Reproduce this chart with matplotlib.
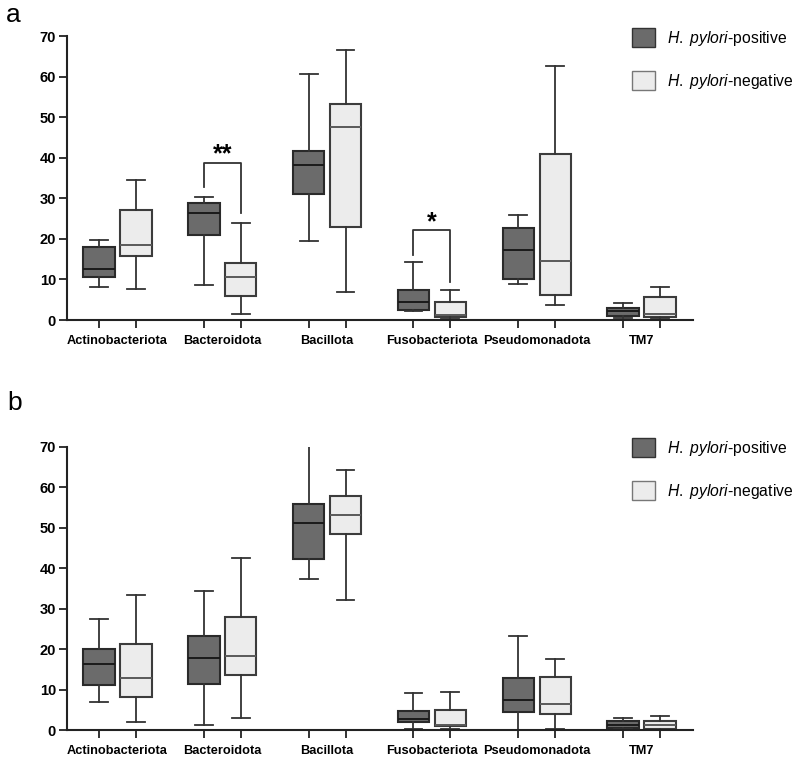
import matplotlib
matplotlib.use("Agg")
import matplotlib.pyplot as plt
from matplotlib.patches import Patch

plt.rcParams['font.family'] = ['Liberation Sans', 'DejaVu Sans']
plt.rcParams['mathtext.fontset'] = 'custom'
plt.rcParams['mathtext.rm'] = 'Liberation Sans'
plt.rcParams['mathtext.it'] = 'Liberation Sans:italic'

phyla = ['Actinobacteriota', 'Bacteroidota', 'Bacillota',
         'Fusobacteriota', 'Pseudomonadota', 'TM7']
groups = [r'$\it{H.}$ $\it{pylori}$-positive', r'$\it{H.}$ $\it{pylori}$-negative']

# five-number summaries per phylum: whisker low, Q1, median, Q3, whisker high
a_pos = [[8.1, 10.7, 12.5, 18.1, 19.8],
         [8.6, 21.0, 26.3, 28.8, 30.4],
         [19.5, 31.0, 38.2, 41.6, 60.6],
         [2.1, 2.4, 4.5, 7.3, 14.3],
         [8.9, 10.1, 17.3, 22.8, 25.8],
         [0.4, 0.9, 2.3, 3.0, 4.2]]
a_neg = [[7.6, 15.8, 18.6, 27.2, 34.4],
         [1.5, 5.9, 10.6, 14.1, 24.0],
         [6.8, 23.0, 47.5, 53.2, 66.5],
         [0.25, 0.8, 1.3, 4.5, 7.3],
         [3.7, 6.2, 14.6, 41.0, 62.7],
         [0.5, 0.7, 1.4, 5.7, 8.2]]
b_pos = [[6.9, 11.0, 16.3, 19.9, 27.4],
         [1.2, 11.4, 17.9, 23.3, 34.4],
         [37.2, 42.2, 51.1, 55.8, 72.0],
         [0.2, 2.0, 2.8, 4.8, 9.1],
         [0.0, 4.4, 7.3, 12.9, 23.3],
         [0.2, 0.6, 1.2, 2.1, 3.0]]
b_neg = [[2.0, 8.2, 12.9, 21.3, 33.3],
         [2.9, 13.7, 18.4, 28.0, 42.4],
         [32.2, 48.5, 53.1, 57.7, 64.2],
         [0.3, 1.1, 1.3, 5.0, 9.5],
         [0.2, 3.9, 6.4, 13.0, 17.5],
         [0.1, 0.2, 1.3, 2.1, 3.5]]

# significance: phylum index, left leg bottom, right leg bottom, bracket top, label
a_sig = [(1, 32.9, 26.3, 38.7, '**'),
         (3, 15.9, 9.4, 22.1, '*')]
b_sig = []

dark = '#6b6b6b'
light = '#ececec'
off = 0.176


def to_stats(rows):
    return [dict(whislo=r[0], q1=r[1], med=r[2], q3=r[3], whishi=r[4], fliers=[])
            for r in rows]


def draw_group(ax, rows, pos, face, edge, medc):
    line = dict(color='#333333', linewidth=1.3)
    ax.bxp(to_stats(rows), positions=pos, widths=0.3, capwidths=0.17,
           patch_artist=True, showfliers=False,
           boxprops=dict(facecolor=face, edgecolor=edge, linewidth=1.5),
           medianprops=dict(color=medc, linewidth=1.4),
           whiskerprops=line, capprops=line)


def panel(ax, pos_rows, neg_rows, sig):
    n = len(phyla)
    xp = [i - off for i in range(n)]
    xn = [i + off for i in range(n)]
    draw_group(ax, pos_rows, xp, dark, '#2a2a2a', '#1a1a1a')
    draw_group(ax, neg_rows, xn, light, '#3c3c3c', '#5a5a5a')

    for i, lo_l, lo_r, top, lab in sig:
        ax.plot([i - off, i - off, i + off, i + off], [lo_l, top, top, lo_r],
                color='#333333', linewidth=1.3, clip_on=False)
        ax.text(i, top + 0.3, lab, ha='center', va='baseline',
                fontsize=18, fontweight='bold')

    ax.set_xlim(-0.481, 5.49)
    ax.set_ylim(0, 70)
    ax.set_yticks(range(0, 71, 10))
    for s in ['top', 'right']:
        ax.spines[s].set_visible(False)
    for s in ['left', 'bottom']:
        ax.spines[s].set_linewidth(1.5)
        ax.spines[s].set_color('#222222')
    ax.set_xticks(range(n))
    ax.set_xticklabels(phyla, fontsize=9.2, fontweight='bold')
    ax.set_xticks(xp + xn, minor=True)
    ax.tick_params(axis='x', which='major', length=0, pad=11)
    ax.tick_params(axis='x', which='minor', length=6, width=1.3, color='#222222')
    ax.tick_params(axis='y', length=6, width=1.3, color='#222222', pad=2)
    for t in ax.get_yticklabels():
        t.set_fontsize(10.5)
        t.set_fontweight('bold')


fig = plt.figure(figsize=(8, 7.63), dpi=100)
ax_a = fig.add_axes([0.08375, 0.5806, 0.7825, 0.3722])
ax_b = fig.add_axes([0.08375, 0.04325, 0.7825, 0.3714])
panel(ax_a, a_pos, a_neg, a_sig)
panel(ax_b, b_pos, b_neg, b_sig)

handles = [Patch(facecolor=dark, edgecolor='#333333', linewidth=1.0),
           Patch(facecolor=light, edgecolor='#777777', linewidth=1.0)]
for ypix in [28, 438]:
    fig.legend(handles, groups, loc='upper left',
               bbox_to_anchor=(632 / 800, 1 - ypix / 763),
               frameon=False, fontsize=11.3, borderpad=0, borderaxespad=0,
               handlelength=1.45, handleheight=1.45, handletextpad=0.75,
               labelspacing=1.5)

fig.text(6 / 800, 1 - 22 / 763, 'a', fontsize=19, va='baseline')
fig.text(7 / 800, 1 - 410 / 763, 'b', fontsize=19, va='baseline')

fig.savefig('out.png', dpi=100)
